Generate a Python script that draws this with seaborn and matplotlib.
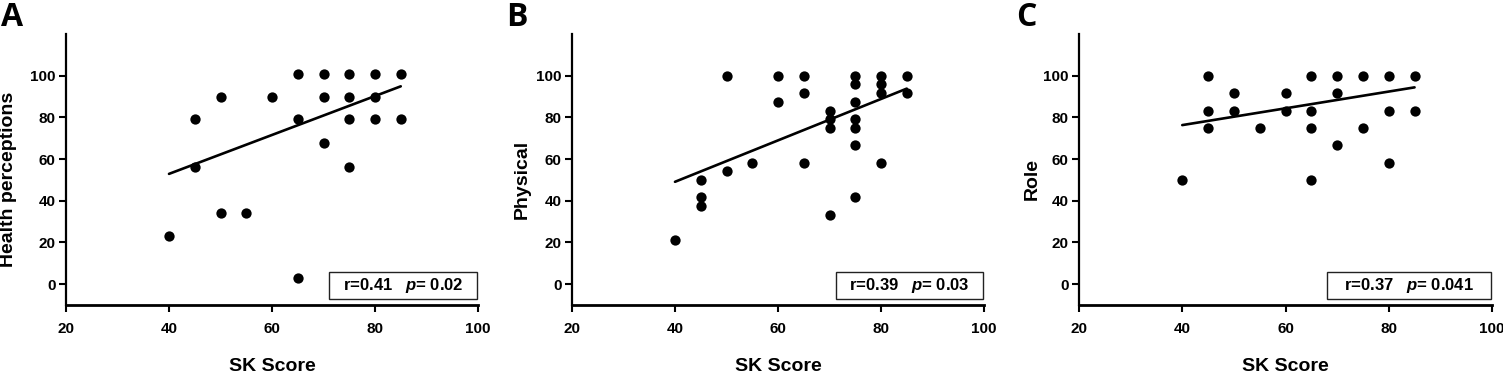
import numpy as np
import pandas as pd
import matplotlib
matplotlib.use("Agg")
import matplotlib.pyplot as plt
import seaborn as sns
from matplotlib.patches import Rectangle

sns.set_theme(style="ticks")
plt.rcParams['font.family'] = ['Liberation Sans', 'DejaVu Sans']
plt.rcParams['font.weight'] = 'bold'
plt.rcParams['mathtext.fontset'] = 'custom'
plt.rcParams['mathtext.it'] = 'Liberation Sans:italic:bold'
plt.rcParams['mathtext.rm'] = 'Liberation Sans:bold'
for k in ['text.color', 'axes.labelcolor', 'xtick.color', 'ytick.color', 'axes.edgecolor']:
    plt.rcParams[k] = 'black'

# ---- data ----
sk_a = [40, 45, 45, 50, 50, 55, 60, 65, 65, 65, 70, 70, 70, 75, 75, 75, 75, 80, 80, 80, 85, 85]
health = [23, 79, 56, 90, 34, 34, 90, 101, 79, 3, 101, 90, 67.5, 101, 90, 79, 56, 101, 90, 79, 101, 79]

sk_b = [40, 45, 45, 45, 50, 50, 55, 60, 60, 65, 65, 65, 70, 70, 70, 70,
        75, 75, 75, 75, 75, 75, 75, 80, 80, 80, 80, 85, 85]
physical = [21, 50, 41.7, 37.5, 100, 54.2, 58.3, 100, 87.5, 100, 91.7, 58.3, 83.3, 79.2, 75, 33.3,
            100, 95.8, 87.5, 79.2, 75, 66.7, 41.7, 100, 95.8, 91.7, 58.3, 100, 91.7]

sk_c = [40, 45, 45, 45, 50, 50, 55, 60, 60, 65, 65, 65, 65, 70, 70, 70, 75, 75, 80, 80, 80, 85, 85]
role = [50, 100, 83.3, 75, 91.7, 83.3, 75, 91.7, 83.3, 100, 83.3, 75, 50, 100, 91.7, 66.7,
        100, 75, 100, 83.3, 58.3, 100, 83.3]

fit_x = [40, 85]
fit_a = [52.9, 94.9]
fit_b = [49.1, 93.8]
fit_c = [76.3, 94.4]

letters = ["A", "B", "C"]
ylabels = ["Health perceptions", "Physical", "Role"]
stats = [r"r=0.41   $p$= 0.02", r"r=0.39   $p$= 0.03", r"r=0.37   $p$= 0.041"]
xlabel = "SK Score"
xticks = [20, 40, 60, 80, 100]
yticks = [0, 20, 40, 60, 80, 100]

panels = [(sk_a, health, fit_a), (sk_b, physical, fit_b), (sk_c, role, fit_c)]

W, H = 1503, 381
fig = plt.figure(figsize=(W / 100, H / 100), dpi=100)

lefts = [66, 572, 1079]
rights = [478, 984, 1492]
ax_top, ax_bot = 34, 305
box_x0 = [0.638, 0.640, 0.600]
ylab_x = [-0.118, -0.101, -0.092]
letter_x = [1, 506, 1016]

for i, (xs, ys, fy) in enumerate(panels):
    l, r = lefts[i], rights[i]
    ax = fig.add_axes([l / W, (H - ax_bot) / H, (r - l) / W, (ax_bot - ax_top) / H])
    df = pd.DataFrame({"x": xs, "y": ys})
    sns.scatterplot(data=df, x="x", y="y", ax=ax, color="black", s=55,
                    edgecolor="black", linewidth=0, zorder=3)
    dfl = pd.DataFrame({"x": fit_x, "y": fy})
    sns.lineplot(data=dfl, x="x", y="y", ax=ax, color="black", linewidth=1.9, zorder=4)
    ax.set_xlim(20, 100)
    ax.set_ylim(-10, 120)
    ax.set_xticks(xticks)
    ax.set_yticks(yticks)
    ax.set_xticklabels([str(t) for t in xticks], fontsize=11, fontweight='bold')
    ax.set_yticklabels([str(t) for t in yticks], fontsize=11, fontweight='bold')
    for s in ["top", "right"]:
        ax.spines[s].set_visible(False)
    ax.spines["left"].set_linewidth(1.6)
    ax.spines["bottom"].set_linewidth(2.0)
    ax.tick_params(axis='x', direction='out', length=5, width=1.5, pad=7, colors='black')
    ax.tick_params(axis='y', direction='out', length=5, width=1.5, pad=2.5, colors='black')
    ax.set_xlabel(xlabel, fontsize=14, fontweight='bold')
    ax.set_ylabel(ylabels[i], fontsize=14, fontweight='bold')
    ax.xaxis.set_label_coords(0.5, -0.197)
    ax.yaxis.set_label_coords(ylab_x[i], 0.465)
    x0 = box_x0[i]
    ax.add_patch(Rectangle((x0, 0.022), 0.997 - x0, 0.10, transform=ax.transAxes,
                           fill=False, edgecolor='#222222', linewidth=1.0, clip_on=False, zorder=5))
    ax.text((x0 + 0.997) / 2, 0.072, stats[i], transform=ax.transAxes, ha='center', va='center',
            fontsize=12, fontweight='bold', zorder=6)
    fig.text(letter_x[i] / W, 1 - 1 / H, letters[i], ha='left', va='top', fontsize=23,
             fontweight='bold', family=['Open Sans', 'DejaVu Sans'])

fig.savefig("out.png", dpi=100)
